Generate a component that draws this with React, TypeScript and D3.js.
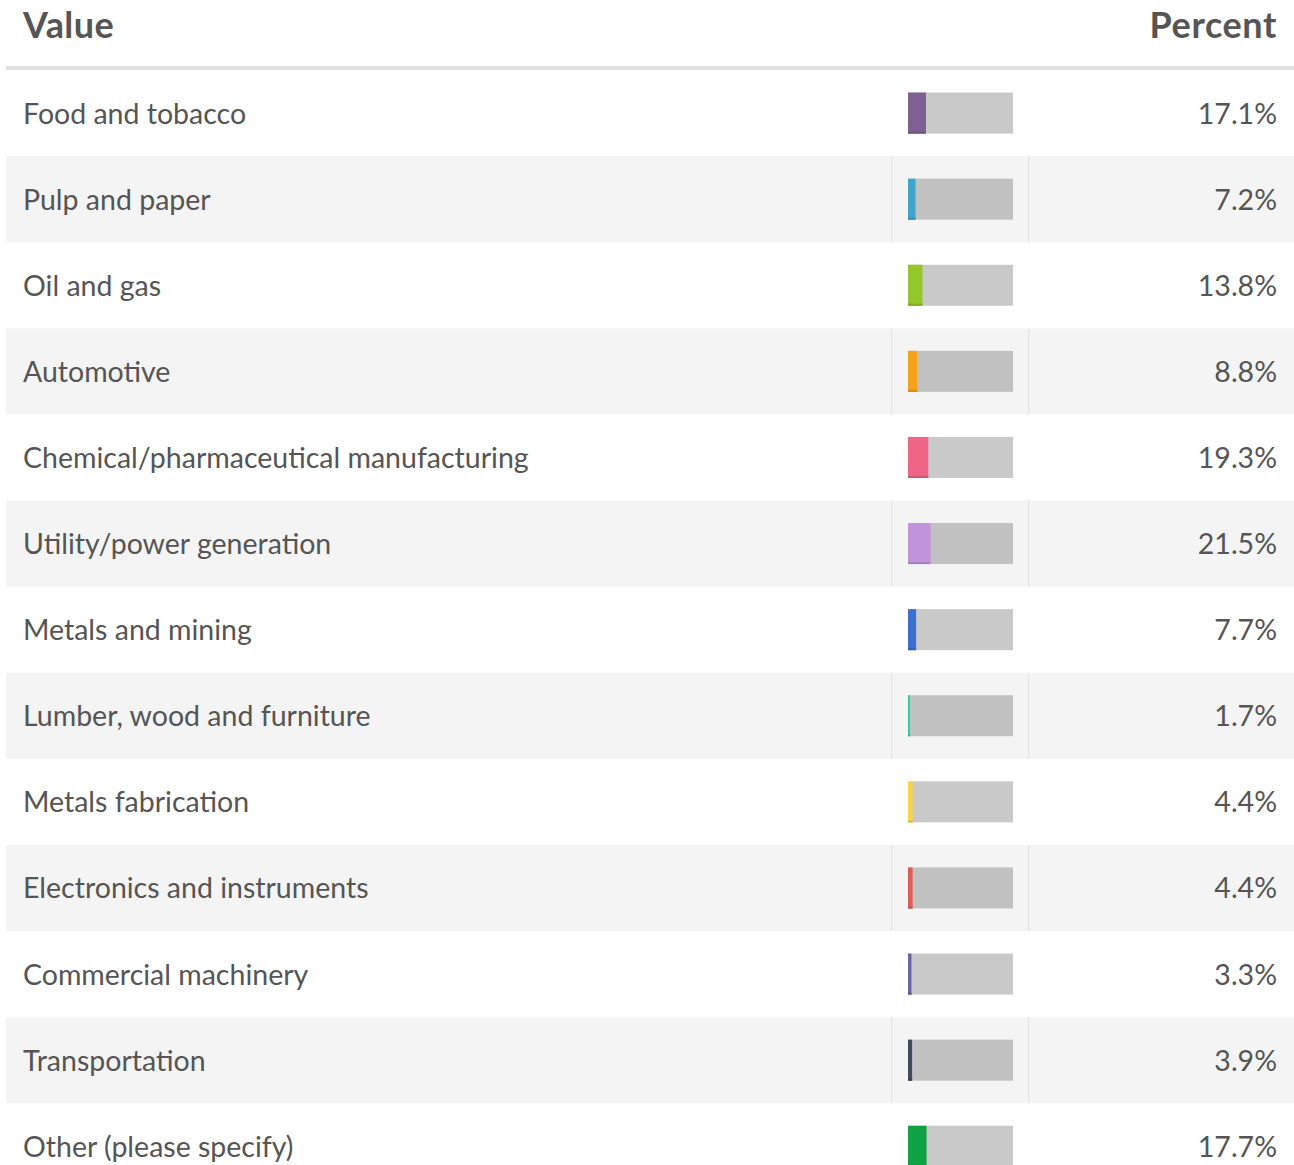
import React, { useEffect, useRef } from 'react';
import * as d3 from 'd3';

const categories = [
    'Food and tobacco',
    'Pulp and paper',
    'Oil and gas',
    'Automotive',
    'Chemical/pharmaceutical manufacturing',
    'Utility/power generation',
    'Metals and mining',
    'Lumber, wood and furniture',
    'Metals fabrication',
    'Electronics and instruments',
    'Commercial machinery',
    'Transportation',
    'Other (please specify)'
];

const percents = [17.1, 7.2, 13.8, 8.8, 19.3, 21.5, 7.7, 1.7, 4.4, 4.4, 3.3, 3.9, 17.7];

const colours = [
    '#7e6190', '#3fa6c9', '#95c62a', '#f6a31b', '#f06586', '#c094db', '#3d6fd0',
    '#2ec99b', '#fcd446', '#e05c54', '#6a65a6', '#414a5e', '#10a345'
];

const headers = ['Value', 'Percent'];

const W = 1294;
const H = 1165;

export default function App() {
    const ref = useRef<SVGSVGElement | null>(null);

    useEffect(() => {
        const svg = d3.select(ref.current);
        svg.selectAll('*').remove();

        const left = 6;
        const right = W;
        const top = 70;
        const rowH = 86.1;
        const font = 'Lato, "Open Sans", sans-serif';

        const y = d3.scaleBand<number>()
            .domain(d3.range(categories.length))
            .range([top, top + rowH * categories.length])
            .padding(0);

        const barX = 908;
        const barW = 105;
        const x = d3.scaleLinear().domain([0, 100]).range([0, barW]);

        // header
        svg.append('text')
            .attr('x', 23).attr('y', 38)
            .attr('font-family', font).attr('font-weight', 700)
            .attr('font-size', 36).attr('letter-spacing', 0.4).attr('fill', '#555')
            .text(headers[0]);
        svg.append('text')
            .attr('x', 1277).attr('y', 38)
            .attr('text-anchor', 'end')
            .attr('font-family', font).attr('font-weight', 700)
            .attr('font-size', 36).attr('letter-spacing', 0.6).attr('fill', '#555')
            .text(headers[1]);
        svg.append('rect')
            .attr('x', left).attr('y', 66)
            .attr('width', right - left).attr('height', 4)
            .attr('fill', '#e0e0e0');

        const rows = svg.selectAll('g.row')
            .data(categories.map((c, i) => ({ c, i, v: percents[i], col: colours[i] })))
            .enter().append('g')
            .attr('class', 'row')
            .attr('transform', d => `translate(0,${y(d.i)})`);

        rows.filter(d => d.i % 2 === 1)
            .append('rect')
            .attr('x', left).attr('y', 0)
            .attr('width', right - left).attr('height', y.bandwidth())
            .attr('fill', '#f4f4f4');

        [891, 1028].forEach(lx => {
            rows.filter(d => d.i % 2 === 1)
                .append('rect')
                .attr('x', lx).attr('y', 0)
                .attr('width', 1.2).attr('height', y.bandwidth())
                .attr('fill', '#e4e4e4');
        });

        const bh = 41;
        const by = y.bandwidth() / 2 - bh / 2;

        rows.append('rect')
            .attr('x', barX).attr('y', by)
            .attr('width', barW).attr('height', bh)
            .attr('fill', d => d.i % 2 === 1 ? '#c1c1c1' : '#c9c9c9');

        rows.append('rect')
            .attr('x', barX).attr('y', by)
            .attr('width', d => x(d.v)).attr('height', bh)
            .attr('fill', d => d.col);

        rows.append('rect')
            .attr('x', barX).attr('y', by + bh - 2)
            .attr('width', d => x(d.v)).attr('height', 2)
            .attr('fill', d => d3.color(d.col)!.darker(0.4).toString());

        rows.append('text')
            .attr('x', 23).attr('y', y.bandwidth() / 2 + 10.5)
            .attr('font-family', font).attr('font-size', 28.5)
            .attr('fill', '#555')
            .text(d => d.c);

        rows.append('text')
            .attr('x', 1277).attr('y', y.bandwidth() / 2 + 10.5)
            .attr('text-anchor', 'end')
            .attr('font-family', font).attr('font-size', 28.5)
            .attr('fill', '#555')
            .text(d => d.v.toFixed(1) + '%');
    }, []);

    return (
        <svg ref={ref} width={W} height={H}
            style={{ position: 'absolute', left: 0, top: 0, background: '#fff' }} />
    );
}
